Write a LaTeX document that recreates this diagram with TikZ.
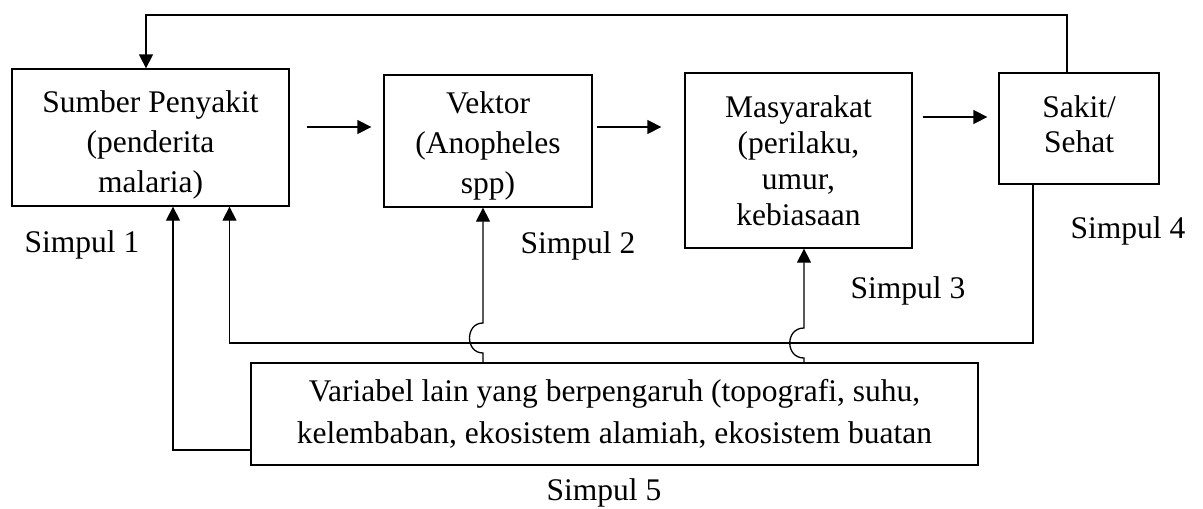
\documentclass[tikz,border=0pt]{standalone}
\usepackage{fontspec}
\setmainfont{Liberation Serif}
\usetikzlibrary{arrows.meta}
\tikzset{
  box/.style={draw, line width=1.3pt, inner sep=0pt, align=center, font=\fontsize{31.5}{38}\selectfont},
  lbl/.style={inner sep=0pt, align=center, font=\fontsize{31.5}{40}\selectfont},
  arr/.style={line width=1.3pt, -{Triangle[length=14pt,width=14pt]}},
  ln/.style={line width=1.3pt}
}
\begin{document}
\begin{tikzpicture}[x=1pt,y=-1pt]
\useasboundingbox (0,0) rectangle (1203,509);
\node[box, minimum width=277pt, minimum height=137pt] (b1) at (150.5,137.5) {};
\node[lbl] (t1) at ([yshift=-7pt]b1.center) {Sumber Penyakit\\(penderita\\malaria)};
\node[box, minimum width=208pt, minimum height=132pt] (b2) at (488,141) {};
\node[lbl] (t2) at ([yshift=-5pt]b2.center) {Vektor\\(Anopheles\\spp)};
\node[box, minimum width=227pt, minimum height=175pt] (b3) at (798.5,160.5) {};
\node[lbl, font=\fontsize{31.5}{36}\selectfont] (t3) at ([yshift=0pt]b3.center) {Masyarakat\\(perilaku,\\umur,\\kebiasaan};
\node[box, minimum width=160pt, minimum height=111pt] (b4) at (1079,128.5) {};
\node[lbl, font=\fontsize{31.5}{35}\selectfont] (t4) at ([yshift=4pt]b4.center) {Sakit/\\Sehat};
\node[box, minimum width=727pt, minimum height=102pt, font=\fontsize{31.5}{42}\selectfont] (v) at (614.5,414) {Variabel lain yang berpengaruh (topografi, suhu,\\kelembaban, ekosistem alamiah, ekosistem buatan};

\node[lbl] (s1) at (82,245) {Simpul 1};
\node[lbl] (s2) at (578,246) {Simpul 2};
\node[lbl] (s3) at (908,291) {Simpul 3};
\node[lbl] (s4) at (1128,231) {Simpul 4};
\node[lbl] (s5) at (604,493) {Simpul 5};

\coordinate (ytop) at (0,15);
\coordinate (ybus) at (0,343);
\coordinate (y12) at (0,127);
\coordinate (y34) at (0,117);

% horizontal arrows
\draw[arr, shorten <=17pt, shorten >=12pt] (b1.east |- y12) -- (b2.west |- y12);
\draw[arr, shorten <=4pt, shorten >=23pt] (b2.east |- y12) -- (b3.west |- y12);
\draw[arr, shorten <=10pt, shorten >=11pt] (b3.east |- y34) -- (b4.west |- y34);

% top feedback
\draw[arr] ([xshift=-12pt]b4.north) |- ([xshift=-4.5pt]b1.north |- ytop) -- ([xshift=-4.5pt]b1.north);
% bus feedback
\draw[arr] ([xshift=-46pt]b4.south) |- ([xshift=79pt]b1.south |- ybus) -- ([xshift=79pt]b1.south);
% variabel to box 1
\draw[arr] ([yshift=-36pt]v.west) -| ([xshift=22.5pt]b1.south);
% variabel to vektor (with jump)
\draw[arr] ([xshift=-5pt]b2.south |- v.north) -- (483,353) .. controls (465,353) and (465,323) .. (483,323) -- ([xshift=-5pt]b2.south);
% variabel to masyarakat (with jump)
\draw[arr] ([xshift=5.5pt]b3.south |- v.north) -- (804,358) .. controls (785,358) and (785,328) .. (804,328) -- ([xshift=5.5pt]b3.south);
\end{tikzpicture}
\end{document}
